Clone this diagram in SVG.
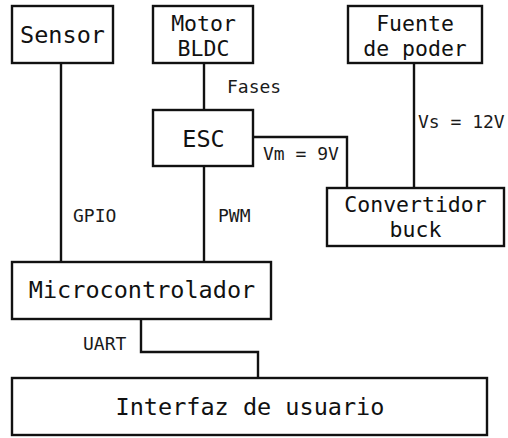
<svg xmlns="http://www.w3.org/2000/svg" width="508" height="438" viewBox="0 0 508 438">
<style>
.box{fill:#fff;stroke:#111;stroke-width:2.4}
.ln{fill:none;stroke:#111;stroke-width:2.4}
.t{font-family:"DejaVu Sans Mono","Liberation Mono",monospace;font-size:23.5px;fill:#111;text-anchor:middle}
.t2{font-size:21.5px}
.l{font-family:"DejaVu Sans Mono","Liberation Mono",monospace;font-size:18px;fill:#1a1a1a}
</style>
<rect width="508" height="438" fill="#fff"/>
<g id="connectors">
<path class="ln" d="M61,63 V262"/>
<path class="ln" d="M204,63 V110"/>
<path class="ln" d="M204,166 V262"/>
<path class="ln" d="M253,137 H347 V188"/>
<path class="ln" d="M414,63 V188"/>
<path class="ln" d="M141,319 V352 H258 V378"/>
<text class="l" x="227" y="93">Fases</text>
<text class="l" x="263" y="160">Vm = 9V</text>
<text class="l" x="418" y="128">Vs = 12V</text>
<text class="l" x="73" y="222">GPIO</text>
<text class="l" x="218" y="222">PWM</text>
<text class="l" x="83" y="350">UART</text>
</g>
<g id="sensor">
<rect class="box" x="12" y="6" width="101" height="57"/>
<text class="t" x="62.5" y="43">Sensor</text>
</g>
<g id="motor">
<rect class="box" x="153" y="6" width="100" height="57"/>
<text class="t t2" x="203.5" y="31">Motor</text>
<text class="t t2" x="203.5" y="56">BLDC</text>
</g>
<g id="esc">
<rect class="box" x="153" y="110" width="100" height="56"/>
<text class="t" x="203.5" y="147">ESC</text>
</g>
<g id="fuente">
<rect class="box" x="348" y="6" width="134" height="57"/>
<text class="t t2" x="415" y="31">Fuente</text>
<text class="t t2" x="415" y="56">de poder</text>
</g>
<g id="convertidor">
<rect class="box" x="327" y="188" width="177" height="58"/>
<text class="t t2" x="415.5" y="212">Convertidor</text>
<text class="t t2" x="415.5" y="237">buck</text>
</g>
<g id="micro">
<rect class="box" x="12" y="262" width="259" height="57"/>
<text class="t" x="142" y="298">Microcontrolador</text>
</g>
<g id="interfaz">
<rect class="box" x="12" y="378" width="475" height="57"/>
<text class="t" x="250" y="415">Interfaz de usuario</text>
</g>
</svg>
